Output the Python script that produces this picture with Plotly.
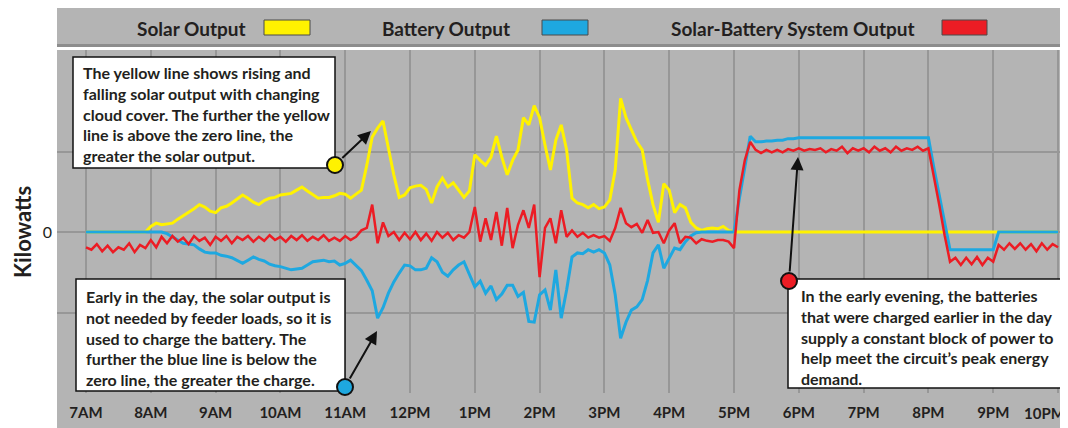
import plotly.graph_objects as go

# ---------------- data (5-minute samples, 7:00 -> 22:00) ----------------
step_minutes = 5
n_points = 181
times = [7 + i * step_minutes / 60 for i in range(n_points)]

solar = [
    0, 0, 0, 0, 0, 0, 0, 0, 0, 0, 0, 0,
    0.07, 0.11, 0.09, 0.10, 0.11, 0.16, 0.20, 0.25, 0.29, 0.34, 0.31, 0.26,
    0.24, 0.30, 0.32, 0.36, 0.41, 0.46, 0.42, 0.37, 0.34, 0.39, 0.42, 0.43,
    0.46, 0.47, 0.48, 0.52, 0.56, 0.51, 0.46, 0.42, 0.43, 0.43, 0.45, 0.48,
    0.47, 0.42, 0.47, 0.52, 0.83, 1.18, 1.29, 1.38, 1.04, 0.71, 0.43, 0.46,
    0.55, 0.57, 0.58, 0.53, 0.36, 0.56, 0.67, 0.56, 0.61, 0.52, 0.43, 0.51,
    0.96, 0.89, 0.83, 0.93, 1.19, 0.93, 0.71, 0.89, 1.02, 1.42, 1.33, 1.57,
    1.42, 1.08, 0.77, 1.14, 1.33, 1.02, 0.42, 0.36, 0.34, 0.30, 0.34, 0.29,
    0.31, 0.40, 0.77, 1.66, 1.42, 1.27, 1.12, 1.02, 0.65, 0.34, 0.12, 0.60,
    0.52, 0.24, 0.34, 0.30, 0.12, 0.05, 0.02, 0.04, 0.05, 0.04, 0.07, 0.02,
    0, 0, 0, 0, 0, 0, 0, 0, 0, 0, 0, 0,
    0, 0, 0, 0, 0, 0, 0, 0, 0, 0, 0, 0,
    0, 0, 0, 0, 0, 0, 0, 0, 0, 0, 0, 0,
    0, 0, 0, 0, 0, 0, 0, 0, 0, 0, 0, 0,
    0, 0, 0, 0, 0, 0, 0, 0, 0, 0, 0, 0,
    0,
]

battery = [
    0, 0, 0, 0, 0, 0, 0, 0, 0, 0, 0, 0,
    0, 0, 0, -0.02, -0.06, -0.10, -0.14, -0.15, -0.16, -0.21, -0.25, -0.26,
    -0.26, -0.29, -0.30, -0.32, -0.35, -0.39, -0.35, -0.31, -0.34, -0.36, -0.40, -0.42,
    -0.43, -0.45, -0.47, -0.46, -0.45, -0.41, -0.37, -0.36, -0.35, -0.37, -0.36, -0.41,
    -0.39, -0.35, -0.41, -0.48, -0.60, -0.73, -1.07, -0.94, -0.76, -0.62, -0.51, -0.41,
    -0.42, -0.47, -0.47, -0.45, -0.32, -0.37, -0.50, -0.55, -0.47, -0.41, -0.37, -0.53,
    -0.68, -0.61, -0.76, -0.67, -0.84, -0.77, -0.66, -0.66, -0.80, -0.75, -1.11, -1.12,
    -0.78, -0.72, -0.97, -0.47, -1.07, -0.72, -0.31, -0.26, -0.27, -0.22, -0.25, -0.22,
    -0.26, -0.41, -0.78, -1.32, -1.12, -0.97, -0.93, -0.84, -0.60, -0.26, -0.16, -0.45,
    -0.32, -0.20, -0.22, -0.12, -0.05, -0.01, 0, 0, 0, 0, 0, 0,
    0, 0.42, 0.80, 1.19, 1.12, 1.12, 1.13, 1.13, 1.14, 1.14, 1.16, 1.16,
    1.17, 1.17, 1.17, 1.17, 1.17, 1.17, 1.17, 1.17, 1.17, 1.17, 1.17, 1.17,
    1.17, 1.17, 1.17, 1.17, 1.17, 1.17, 1.17, 1.17, 1.17, 1.17, 1.17, 1.17,
    1.17, 0.80, 0.46, 0.11, -0.22, -0.22, -0.22, -0.22, -0.22, -0.22, -0.22, -0.22,
    -0.22, 0, 0, 0, 0, 0, 0, 0, 0, 0, 0, 0,
    0,
]

system = [
    -0.19, -0.22, -0.15, -0.24, -0.17, -0.25, -0.19, -0.22, -0.14, -0.25, -0.16, -0.20,
    -0.10, -0.19, -0.06, -0.14, -0.05, -0.12, -0.07, -0.15, -0.05, -0.11, -0.07, -0.16,
    -0.06, -0.11, -0.05, -0.14, -0.06, -0.10, -0.05, -0.12, -0.06, -0.11, -0.04, -0.10,
    -0.06, -0.12, -0.05, -0.10, -0.04, -0.11, -0.06, -0.10, -0.04, -0.11, -0.07, -0.11,
    -0.05, -0.10, -0.06, 0.02, 0.05, 0.34, -0.14, 0.12, -0.05, 0.00, -0.10, -0.01,
    -0.09, 0.00, -0.10, -0.02, -0.11, 0.00, -0.07, -0.01, -0.10, -0.04, -0.07, 0.00,
    0.31, -0.12, 0.17, -0.10, 0.25, -0.17, 0.30, -0.20, 0.09, 0.27, 0.05, 0.34,
    -0.56, 0.05, 0.17, -0.14, 0.27, -0.06, 0.02, -0.06, -0.01, -0.07, -0.04, -0.07,
    -0.05, -0.11, 0.05, 0.30, 0.11, 0.06, 0.10, -0.01, 0.15, -0.01, 0.00, -0.14,
    0.02, 0.11, -0.14, -0.06, -0.07, -0.14, -0.09, -0.11, -0.12, -0.10, -0.10, -0.12,
    -0.20, 0.52, 0.89, 1.12, 1.02, 0.98, 1.02, 0.99, 1.02, 0.99, 1.03, 1.01,
    1.04, 1.01, 1.03, 1.02, 1.04, 0.99, 1.03, 1.01, 1.06, 0.98, 1.04, 1.01,
    1.04, 0.99, 1.06, 1.01, 1.04, 0.99, 1.06, 1.01, 1.04, 1.02, 1.06, 1.01,
    1.04, 0.71, 0.34, -0.04, -0.37, -0.32, -0.41, -0.32, -0.40, -0.31, -0.41, -0.32,
    -0.37, -0.16, -0.22, -0.14, -0.21, -0.14, -0.22, -0.15, -0.24, -0.14, -0.22, -0.15,
    -0.19,
]

hour_ticks = list(range(7, 23))
hour_labels = ["7AM", "8AM", "9AM", "10AM", "11AM", "12PM", "1PM", "2PM", "3PM",
               "4PM", "5PM", "6PM", "7PM", "8PM", "9PM", "10PM"]

legend_names = ["Solar Output", "Battery Output", "Solar-Battery System Output"]

note_solar = ("The yellow line shows rising and<br>falling solar output with changing<br>"
              "cloud cover. The further the yellow<br>line is above the zero line, the<br>"
              "greater the solar output.")
note_battery = ("Early in the day, the solar output is<br>not needed by feeder loads, so it is<br>"
                "used to charge the battery. The<br>further the blue line is below the<br>"
                "zero line, the greater the charge.")
note_evening = ("In the early evening, the batteries<br>that were charged earlier in the day<br>"
                "supply a constant block of power to<br>help meet the circuit\u2019s peak energy<br>"
                "demand.")

# ---------------- styling ----------------
# page has an 8px body margin; figure covers window area (8..1068, 8..428)
OFF = 8
W, H = 1068 - OFF, 428 - OFF
PLOT_L, PLOT_R, PLOT_T, PLOT_B = 57, 1068, 50, 393   # plot area in window pixels
GREY = "#b4b4b4"
GRID = "#979797"
TXT = "#231f20"
YEL, BLU, RED = "#fff200", "#1ea8e0", "#ec1c24"
FONT = "Lato"
TICKFONT = dict(family=FONT, size=15, color=TXT, weight="bold")


def px(x):
    return (x - PLOT_L) / (PLOT_R - PLOT_L)


def py(y):
    return (PLOT_B - y) / (PLOT_B - PLOT_T)


fig = go.Figure()
fig.add_trace(go.Scatter(x=times, y=solar, mode="lines", name=legend_names[0],
                         line=dict(color=YEL, width=3)))
fig.add_trace(go.Scatter(x=times, y=battery, mode="lines", name=legend_names[1],
                         line=dict(color=BLU, width=3)))
fig.add_trace(go.Scatter(x=times, y=system, mode="lines", name=legend_names[2],
                         line=dict(color=RED, width=2.5)))

shapes = []
shapes.append(dict(type="rect", xref="paper", yref="paper", x0=0, x1=1,
                   y0=py(428), y1=1, fillcolor=GREY, line_width=0, layer="below"))
shapes.append(dict(type="rect", xref="paper", yref="paper", x0=0, x1=1,
                   y0=py(44), y1=py(8), fillcolor=GREY, line_width=0, layer="below"))
shapes.append(dict(type="rect", xref="paper", yref="paper", x0=0, x1=1,
                   y0=py(47), y1=py(44), fillcolor="#8d8d8d", line_width=0, layer="below"))
for (x0, x1), col in zip([(264, 310), (542, 588), (942, 987)], [YEL, BLU, RED]):
    shapes.append(dict(type="rect", xref="paper", yref="paper", x0=px(x0), x1=px(x1),
                       y0=py(35), y1=py(20), fillcolor=col,
                       line=dict(color="#4a4a4a", width=1)))
for (x0, x1, y0, y1) in [(73, 335, 57, 168), (76, 345, 279, 391), (788, 1067, 279, 388)]:
    shapes.append(dict(type="rect", xref="paper", yref="paper", x0=px(x0), x1=px(x1),
                       y0=py(y1), y1=py(y0), fillcolor="white",
                       line=dict(color="#111111", width=1.5)))
for (cx, cy), col in zip([(335, 165), (345, 387), (789, 281)], [YEL, BLU, RED]):
    r = 8
    shapes.append(dict(type="circle", xref="paper", yref="paper",
                       x0=px(cx - r), x1=px(cx + r), y0=py(cy + r), y1=py(cy - r),
                       fillcolor=col, line=dict(color="#111111", width=2)))

annotations = []
for name, cx in zip(legend_names, [191, 446, 793]):
    annotations.append(dict(text=name, xref="paper", yref="paper", x=px(cx), y=py(28),
                            xanchor="center", yanchor="middle", showarrow=False,
                            font=dict(family=FONT, size=19, color=TXT, weight="bold")))
for txt, (tx, ty) in zip([note_solar, note_battery, note_evening],
                         [(81, 61), (84, 285), (799, 284)]):
    annotations.append(dict(text=txt, xref="paper", yref="paper", x=px(tx), y=py(ty),
                            xanchor="left", yanchor="top", align="left", showarrow=False,
                            font=dict(family=FONT, size=16, color=TXT, weight="bold")))
for (tipx, tipy), (tailx, taily) in [((371, 131), (335, 165)),
                                      ((377, 331), (345, 387)),
                                      ((798, 157), (789, 281))]:
    annotations.append(dict(text="", xref="paper", yref="paper", x=px(tipx), y=py(tipy),
                            ax=tailx - tipx, ay=taily - tipy, showarrow=True,
                            arrowhead=2, arrowsize=1.3, arrowwidth=2, arrowcolor="#111111",
                            startstandoff=8))
annotations.append(dict(text="Kilowatts", xref="paper", yref="paper", x=px(23), y=py(232),
                        xanchor="center", yanchor="middle", textangle=-90, showarrow=False,
                        font=dict(family=FONT, size=22, color=TXT, weight="bold")))
# last hour label sits flush with the right edge so it is not clipped
annotations.append(dict(text=hour_labels[-1], xref="paper", yref="paper", x=px(1067),
                        y=py(413), xanchor="right", yanchor="middle", showarrow=False,
                        font=TICKFONT))

fig.update_layout(
    width=W, height=H,
    margin=dict(l=PLOT_L - OFF, r=0, t=PLOT_T - OFF, b=428 - PLOT_B, pad=0,
                autoexpand=False),
    paper_bgcolor="white", plot_bgcolor=GREY,
    showlegend=False,
    shapes=shapes, annotations=annotations,
    xaxis=dict(range=[6.5525, 22.154], tickvals=hour_ticks,
               ticktext=hour_labels[:-1] + [""],
               showgrid=True, gridcolor=GRID, gridwidth=2, zeroline=False,
               ticks="", ticklabelstandoff=9, showline=False, ticklabeloverflow="allow",
               automargin=False, tickfont=TICKFONT),
    yaxis=dict(range=[-2.0, 2.261], tickvals=[-2, -1, 0, 1], ticktext=["", "", "0", ""],
               showgrid=True, gridcolor=GRID, gridwidth=2, zeroline=False,
               ticks="", ticklabelstandoff=4, showline=False, automargin=False,
               tickfont=dict(family=FONT, size=16, color=TXT)),
)

fig.write_html("out.html")
